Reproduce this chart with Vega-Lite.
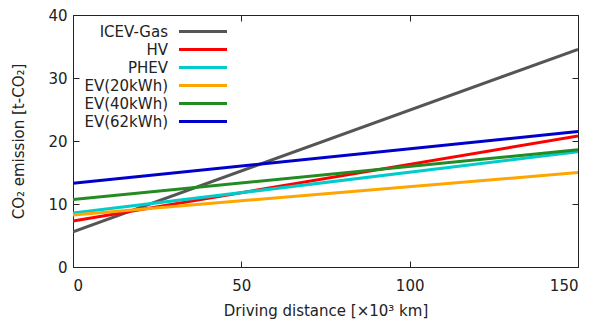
{
  "$schema": "https://vega.github.io/schema/vega-lite/v6.json",
  "width": 505,
  "height": 252,
  "autosize": "none",
  "padding": {"left": 73, "top": 15, "right": 17, "bottom": 53},
  "config": {
    "font": "DejaVu Sans",
    "view": {"stroke": "#222222", "strokeWidth": 1},
    "axis": {"grid": false, "domainColor": "#222222", "tickColor": "#222222", "labelFont": "DejaVu Sans", "titleFont": "DejaVu Sans", "labelFontSize": 15, "titleFontSize": 15, "labelColor": "#222222", "titleColor": "#222222", "titleFontWeight": "normal"}
  },
  "data": {"values": [
    {"series": "ICEV-Gas", "x": 0, "y": 5.6}, {"series": "ICEV-Gas", "x": 150, "y": 34.55},
    {"series": "HV", "x": 0, "y": 7.3}, {"series": "HV", "x": 150, "y": 20.8},
    {"series": "PHEV", "x": 0, "y": 8.55}, {"series": "PHEV", "x": 150, "y": 18.3},
    {"series": "EV(20kWh)", "x": 0, "y": 8.25}, {"series": "EV(20kWh)", "x": 150, "y": 15.0},
    {"series": "EV(40kWh)", "x": 0, "y": 10.7}, {"series": "EV(40kWh)", "x": 150, "y": 18.6},
    {"series": "EV(62kWh)", "x": 0, "y": 13.3}, {"series": "EV(62kWh)", "x": 150, "y": 21.5}
  ]},
  "layer": [
    {
      "mark": {"type": "line", "strokeWidth": 3, "clip": true},
      "encoding": {
        "x": {"field": "x", "type": "quantitative", "scale": {"domain": [0, 150], "nice": false},
          "axis": {"values": [0, 50, 100, 150], "tickSize": -6, "labelPadding": 17, "title": "Driving distance [×10³ km]", "titlePadding": 10, "domain": false}},
        "y": {"field": "y", "type": "quantitative", "scale": {"domain": [0, 40], "nice": false},
          "axis": {"values": [0, 10, 20, 30, 40], "tickSize": -6, "labelPadding": 12, "title": "CO₂ emission [t-CO₂]", "titlePadding": 21, "domain": false}},
        "color": {"field": "series", "type": "nominal",
          "sort": ["ICEV-Gas", "HV", "PHEV", "EV(20kWh)", "EV(40kWh)", "EV(62kWh)"],
          "scale": {"domain": ["ICEV-Gas", "HV", "PHEV", "EV(20kWh)", "EV(40kWh)", "EV(62kWh)"], "range": ["#555555", "#ff0000", "#00cccc", "#ffa500", "#228b22", "#0000cc"]},
          "legend": {"orient": "none", "legendX": 95, "legendY": 9, "title": null, "symbolType": "M-4.8,0H4.8", "symbolSize": 100, "symbolStrokeWidth": 3, "labelFontSize": 15, "labelFont": "DejaVu Sans", "labelColor": "#222222", "rowPadding": 2, "padding": 0,
            "encode": {"labels": {"update": {"x": {"value": 0}, "align": {"value": "right"}}}, "symbols": {"update": {"x": {"value": 35}}}}}
        }
      }
    },
    {
      "mark": {"type": "line", "strokeWidth": 0, "opacity": 0},
      "encoding": {
        "x": {"field": "x", "type": "quantitative", "axis": {"orient": "top", "values": [0, 50, 100, 150], "tickSize": -6, "labels": false, "title": null, "domain": false}},
        "y": {"field": "y", "type": "quantitative", "axis": {"orient": "right", "values": [0, 10, 20, 30, 40], "tickSize": -6, "labels": false, "title": null, "domain": false}},
        "detail": {"field": "series"}
      }
    }
  ],
  "resolve": {"axis": {"x": "independent", "y": "independent"}}
}
